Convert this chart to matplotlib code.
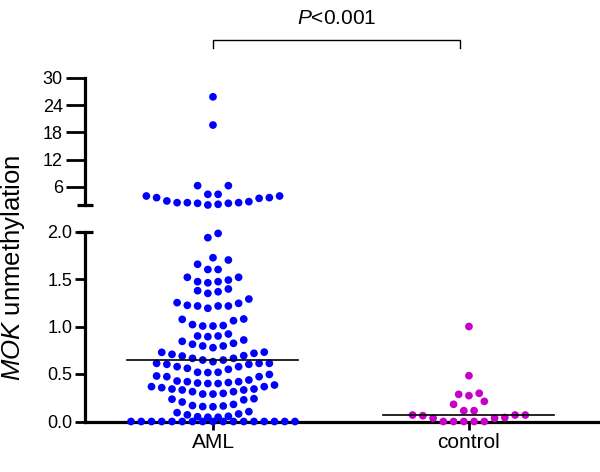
import numpy as np
import matplotlib
matplotlib.use("Agg")
import matplotlib.pyplot as plt
import matplotlib.transforms as mtransforms

plt.rcParams['font.family'] = ['Liberation Sans', 'DejaVu Sans']
plt.rcParams['mathtext.fontset'] = 'custom'
plt.rcParams['mathtext.rm'] = 'Liberation Sans'
plt.rcParams['mathtext.it'] = 'Liberation Sans:italic'

groups = ['AML', 'control']

# MOK unmethylation values
aml_values = [0.0] * 17 + [
    0.045, 0.045, 0.05, 0.055, 0.07, 0.08, 0.093, 0.104,
    0.155, 0.157, 0.163, 0.168, 0.18, 0.205, 0.228, 0.235, 0.24,
    0.289, 0.289, 0.296, 0.314, 0.314, 0.332, 0.332, 0.342, 0.342, 0.356, 0.367, 0.367, 0.384,
    0.40, 0.40, 0.405, 0.41, 0.419, 0.419, 0.426, 0.437, 0.472, 0.472, 0.479, 0.495,
    0.515, 0.518, 0.518, 0.549, 0.56, 0.577, 0.577, 0.602, 0.602, 0.612, 0.612, 0.612,
    0.63, 0.647, 0.647, 0.665, 0.665, 0.689, 0.693, 0.707, 0.718, 0.728, 0.73,
    0.777, 0.795, 0.795, 0.813, 0.823, 0.844, 0.858,
    0.893, 0.90, 0.90, 0.921,
    1.005, 1.005, 1.01, 1.02, 1.061, 1.075, 1.079,
    1.192, 1.216, 1.216, 1.216, 1.223, 1.244, 1.251, 1.289,
    1.349, 1.366, 1.377, 1.395,
    1.46, 1.472, 1.472, 1.489, 1.518, 1.518,
    1.60, 1.60, 1.655, 1.70,
    1.724,
    1.935, 1.98,
    2.05, 2.2, 2.42, 2.42, 2.56, 2.56, 2.56, 2.78, 2.93, 3.51, 3.66, 3.66, 4.02, 4.02,
    4.39, 4.39, 6.29, 6.29, 19.6, 25.8]
control_values = [0.0, 0.0, 0.0, 0.0, 0.0, 0.035, 0.035, 0.042, 0.061, 0.068, 0.068, 0.068,
                  0.114, 0.114, 0.181, 0.212, 0.272, 0.286, 0.297, 0.482, 1.0]
colors = ['#0000ff', '#c800c8']

lo_ticks = [0.0, 0.5, 1.0, 1.5, 2.0]
hi_ticks = [6, 12, 18, 24, 30]
BREAK = 2.0


def swarm(ax, center, vals, spacing_px=10.25, row_px=10.0, max_n=17):
    # rows of points in pixel space, lowest value in the middle, spreading outward
    vals = np.sort(np.asarray(vals, dtype=float))
    py = ax.transData.transform(np.column_stack([np.full(len(vals), center), vals]))[:, 1]
    px_per_x = ax.transData.transform((1, 0))[0] - ax.transData.transform((0, 0))[0]
    dx = spacing_px / px_per_x
    xs = np.empty(len(vals))
    i = 0
    while i < len(vals):
        j = i + 1
        while j < len(vals) and py[j] - py[i] <= row_px and j - i < max_n:
            j += 1
        n = j - i
        if n % 2:
            order = [0] + [s * k for k in range(1, n // 2 + 1) for s in (-1, 1)]
        else:
            order = [s * (k - 0.5) for k in range(1, n // 2 + 1) for s in (-1, 1)]
        xs[i:j] = center + np.array(order[:n]) * dx
        i = j
    return vals, xs


fig = plt.figure(figsize=(6, 4.72), dpi=100)
ax_lo = fig.add_axes([85 / 600, 50.5 / 472, 515 / 600, 190 / 472])
ax_hi = fig.add_axes([85 / 600, 266.8 / 472, 515 / 600, 127.5 / 472])

for ax in (ax_lo, ax_hi):
    ax.set_xlim(-0.5, 1.512)
    ax.spines['top'].set_visible(False)
    ax.spines['right'].set_visible(False)
    ax.spines['left'].set_linewidth(2.3)
    ax.patch.set_alpha(0)
ax_lo.set_ylim(0, BREAK)
ax_hi.set_ylim(BREAK, 30)
ax_lo.spines['bottom'].set_linewidth(2.3)
ax_hi.spines['bottom'].set_visible(False)

for k, vals in enumerate([aml_values, control_values]):
    vals = np.asarray(vals)
    for ax, part in ((ax_lo, vals[vals <= BREAK]), (ax_hi, vals[vals > BREAK])):
        if len(part) == 0:
            continue
        y, x = swarm(ax, k, part)
        ax.scatter(x, y, s=31, color=colors[k], edgecolors='none', zorder=3, clip_on=False)
    med = np.median(vals)
    ax_lo.plot([k - 0.334, k + 0.334], [med, med], color='black', lw=1.2, zorder=4)

ax_lo.set_yticks(lo_ticks)
ax_lo.set_yticklabels(['%.1f' % t for t in lo_ticks])
ax_lo.set_xticks([0, 1])
ax_lo.set_xticklabels(groups)
ax_lo.tick_params(axis='y', length=7, width=2, labelsize=13, pad=2)
ax_lo.tick_params(axis='x', length=6, width=2, labelsize=15, pad=2)

ax_hi.set_yticks(hi_ticks)
ax_hi.set_yticklabels([str(t) for t in hi_ticks])
ax_hi.set_xticks([])
ax_hi.tick_params(axis='y', length=14, width=2, labelsize=13, pad=2)

# axis break caps
for ax in (ax_lo, ax_hi):
    tr = mtransforms.blended_transform_factory(ax.transAxes, ax.transData)
    ax.plot([-0.016, 0.016], [BREAK, BREAK], color='black', lw=2.3, transform=tr,
            clip_on=False, solid_capstyle='butt')

# significance bracket
tr = mtransforms.blended_transform_factory(ax_hi.transData, ax_hi.transAxes)
ax_hi.plot([0, 0, 0.965, 0.965], [1.233, 1.296, 1.296, 1.233], color='black', lw=1.0,
           transform=tr, clip_on=False)
ax_hi.text(0.4825, 1.466, r'$\it{P}$<0.001', transform=tr, ha='center', va='center', fontsize=15)

fig.text(0.022, 0.432, r'$\it{MOK}$ unmethylation', rotation=90, ha='center', va='center',
         fontsize=18.5)

fig.savefig('out.png', dpi=100)
